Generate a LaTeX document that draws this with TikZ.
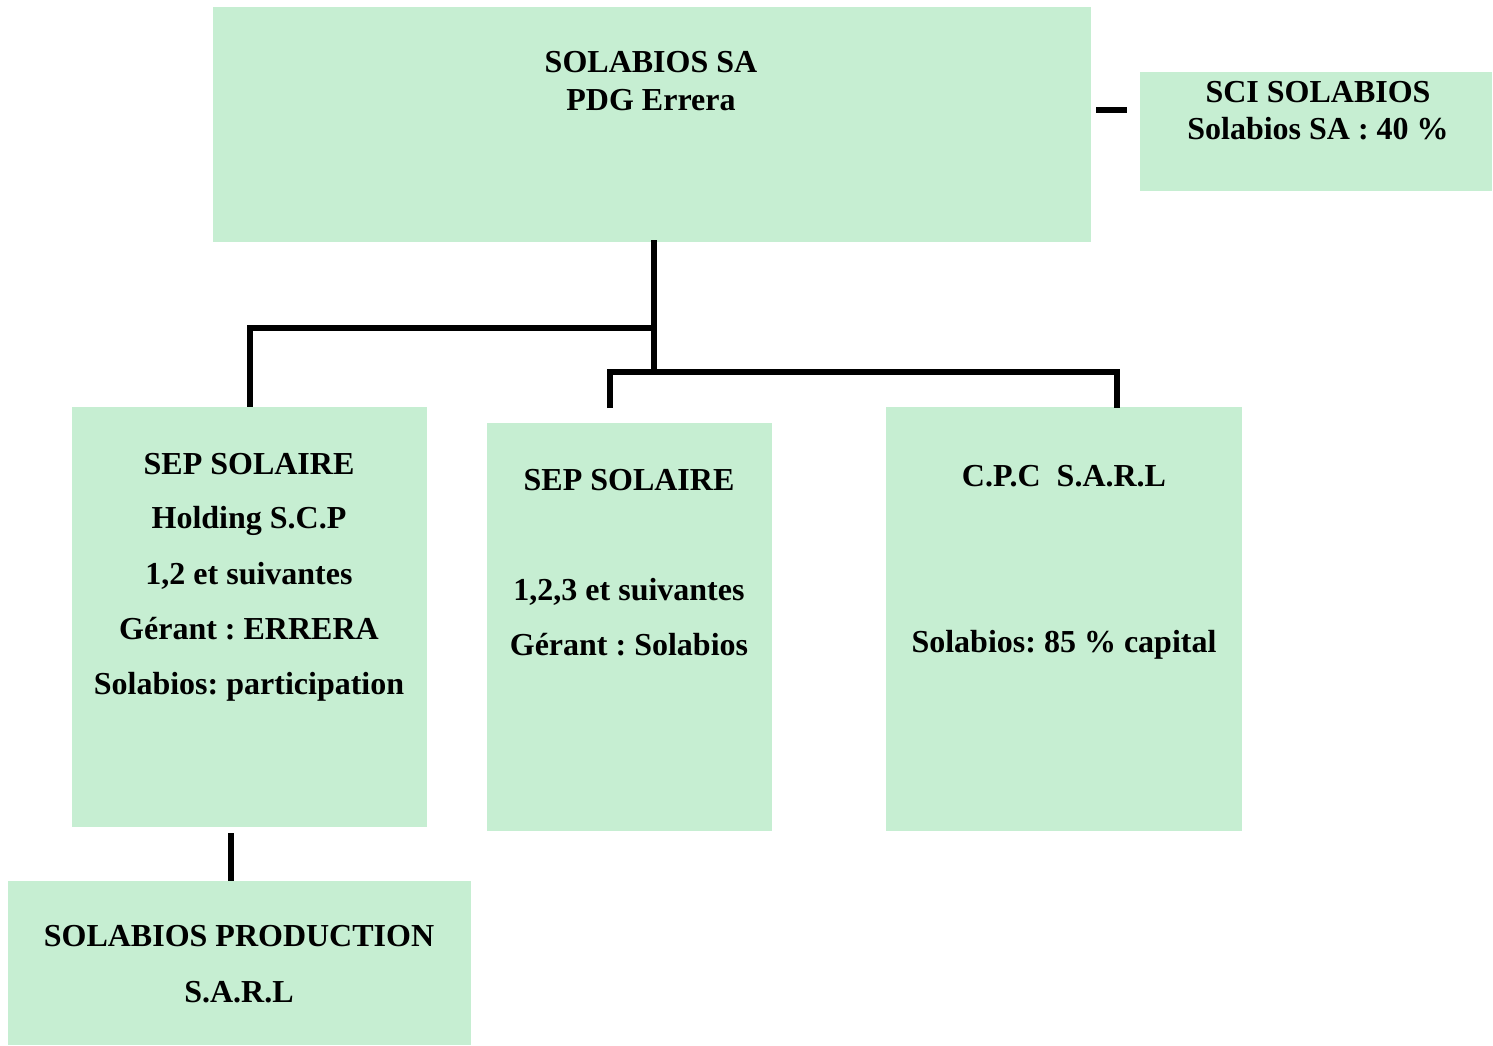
\documentclass[tikz,border=0pt]{standalone}
\usepackage{fontspec}
\setmainfont{Liberation Serif}
\frenchspacing
\begin{document}
\begin{tikzpicture}[x=0.5pt,y=-0.5pt,
  box/.style={fill=boxgreen,draw=none,inner sep=0pt,outer sep=0pt},
  txt/.style={anchor=base,inner sep=0pt,font=\fontsize{16}{19}\selectfont\bfseries\frenchspacing},
  conn/.style={line width=3pt,black,line cap=butt,line join=miter}]
\definecolor{boxgreen}{RGB}{198,238,210}
\useasboundingbox (0,0) rectangle (1493,1045);
% boxes
\node[box,minimum width=439pt,minimum height=117.5pt] (top) at (652,124.5) {};
\node[box,minimum width=176pt,minimum height=59.5pt] (sci) at (1316,131.5) {};
\node[box,minimum width=177.5pt,minimum height=210pt] (b1) at (249.5,617) {};
\node[box,minimum width=142.5pt,minimum height=204pt] (b2) at (629.5,627) {};
\node[box,minimum width=178pt,minimum height=212pt] (b3) at (1064,619) {};
\node[box,minimum width=231.5pt,minimum height=82pt] (b4) at (239.5,963) {};
% texts
\node[txt] (t1) at (651,72) {SOLABIOS SA};
\node[txt] (t2) at (651,110) {PDG Errera};
\node[txt] (s1) at (1318,102) {SCI SOLABIOS};
\node[txt] (s2) at (1318,139) {Solabios SA : 40 \%};
\node[txt] (a1) at (249,474) {SEP SOLAIRE};
\node[txt] (a2) at (249,528) {Holding S.C.P};
\node[txt] (a3) at (249,584) {1,2 et suivantes};
\node[txt] (a4) at (249,639) {Gérant : ERRERA};
\node[txt] (a5) at (249,694) {Solabios: participation};
\node[txt] (c1) at (629,490) {SEP SOLAIRE};
\node[txt] (c2) at (629,600) {1,2,3 et suivantes};
\node[txt] (c3) at (629,655) {Gérant : Solabios};
\node[txt] (d1) at (1064,486) {C.P.C\ \ S.A.R.L};
\node[txt] (d2) at (1064,652) {Solabios: 85 \% capital};
\node[txt] (e1) at (239,946) {SOLABIOS PRODUCTION};
\node[txt] (e2) at (239,1002) {S.A.R.L};
% connectors
\coordinate (topout) at (654,240);
\coordinate (jl) at (654,328);
\coordinate (jr) at (654,372);
\coordinate (e2top) at (610,408);
\coordinate (e3top) at (1117,408);
\coordinate (d0) at (1096,110);
\coordinate (d1e) at (1127,110);
\coordinate (v4a) at (231,833);
\draw[conn] (topout) -- (jr);
\draw[conn] (jl) -| (b1.north);
\draw[conn] (e2top) |- (jr) -| (e3top);
\draw[conn] (d0) -- (d1e);
\draw[conn] (v4a) -- (v4a |- b4.north);
\end{tikzpicture}
\end{document}
